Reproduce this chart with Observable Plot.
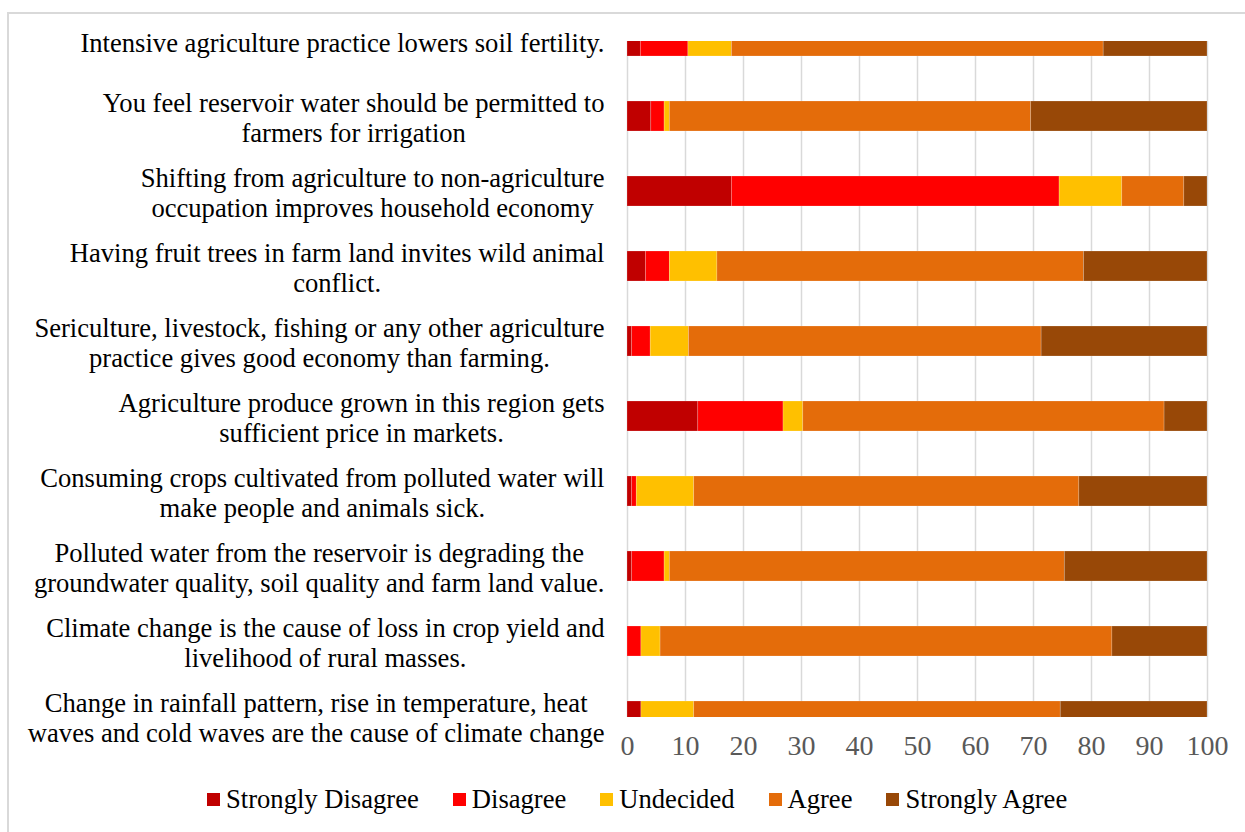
<!DOCTYPE html>
<html>
<head>
<meta charset="utf-8">
<script src="https://cdn.jsdelivr.net/npm/d3@7"></script>
<script src="https://cdn.jsdelivr.net/npm/@observablehq/plot@0.6"></script>
<style>
  html, body { margin: 0; padding: 0; background: #fff; }
  #wrap { position: relative; width: 1245px; height: 832px; overflow: hidden; font-family: "Liberation Serif", "Times New Roman", serif; }
  #frame { position: absolute; left: 7px; top: 12px; width: 1300px; height: 900px; border-left: 2px solid #d9d9d9; border-top: 2px solid #d9d9d9; box-sizing: border-box; }
  #chart { position: absolute; left: 0; top: 0; }
  #legend { position: absolute; left: 207px; top: 784px; display: flex; align-items: center; font-size: 26.6px; color: #000; white-space: nowrap; }
  .item { display: flex; align-items: center; margin-right: 34px; }
  .sw { width: 13px; height: 13px; margin-right: 6px; }
</style>
</head>
<body>
<div id="wrap">
  <div id="frame"></div>
  <div id="chart"></div>
  <div id="legend"></div>
</div>
<script>
const categories = [
  "Intensive agriculture practice lowers soil fertility.",
  "You feel reservoir water should be permitted to\nfarmers for irrigation",
  "Shifting from agriculture to non-agriculture\noccupation improves household economy",
  "Having fruit trees in farm land invites wild animal\nconflict.",
  "Sericulture, livestock, fishing or any other agriculture\npractice gives good economy than farming.",
  "Agriculture produce grown in this region gets\nsufficient price in markets.",
  "Consuming crops cultivated from polluted water will\nmake people and animals sick.",
  "Polluted water from the reservoir is degrading the\ngroundwater quality, soil quality and farm land value.",
  "Climate change is the cause of loss in crop yield and\nlivelihood of rural masses.",
  "Change in rainfall pattern, rise in temperature, heat\nwaves and cold waves are the cause of climate change"
];
const responses = ["Strongly Disagree", "Disagree", "Undecided", "Agree", "Strongly Agree"];
const colors = ["#C00000", "#FF0000", "#FFC000", "#E46C0A", "#984807"];

const stronglyDisagree = [2.3, 4.1, 18.0, 3.2, 0.8, 12.2, 0.8, 0.8, 0.0, 2.4];
const disagree         = [8.2, 2.3, 56.5, 4.1, 3.2, 14.7, 0.8, 5.6, 2.4, 0.0];
const undecided        = [7.5, 0.9, 10.8, 8.2, 6.6, 3.4, 9.9, 0.9, 3.3, 9.1];
const agree            = [64.1, 62.3, 10.7, 63.2, 60.8, 62.3, 66.4, 68.1, 77.9, 63.2];
const stronglyAgree    = [17.9, 30.4, 4.0, 21.3, 28.6, 7.4, 22.1, 24.6, 16.4, 25.3];
const xTicks = [0, 10, 20, 30, 40, 50, 60, 70, 80, 90, 100];

const series = [stronglyDisagree, disagree, undecided, agree, stronglyAgree];
const rows = [];
categories.forEach((c, i) => {
  series.forEach((s, k) => rows.push({ idx: i, response: responses[k], value: s[i] }));
});

const FS = 26.6;
const canvas = document.createElement("canvas");
const ctx = canvas.getContext("2d");
ctx.font = `${FS}px "Liberation Serif"`;
const labelMarks = categories.map((c, i) => {
  const w = d3.max(c.split("\n"), l => ctx.measureText(l).width);
  return Plot.text([c], {
    y: () => i, text: d => d, frameAnchor: "left", textAnchor: "middle",
    dx: -(23 + w / 2), dy: 0.5, fontSize: FS, lineHeight: 30 / FS, fill: "#000"
  });
});

const H = 770;
const chart = Plot.plot({
  width: 1245,
  height: H,
  marginLeft: 627,
  marginRight: 38,
  marginTop: 41,
  marginBottom: H - 717,
  style: { fontFamily: '"Liberation Serif", "Times New Roman", serif', background: "transparent", overflow: "visible" },
  x: { domain: [0, 100], label: null },
  y: { domain: [0, 9], range: [41, 716], axis: null },
  color: { domain: responses, range: colors },
  marks: [
    Plot.gridX(xTicks, { stroke: "#d9d9d9", strokeOpacity: 1, strokeWidth: 1.5 }),
    Plot.rectX(rows, {
      x: "value", y1: d => d.idx - 0.2, y2: d => d.idx + 0.2,
      fill: "response", order: null, clip: true,
      stroke: "#ffffff", strokeOpacity: 0.25, strokeWidth: 0.75
    }),
    Plot.axisX(xTicks, { tickSize: 0, tickPadding: 18, fontSize: 28, fill: "#595959", label: null, tickFormat: d => String(d) }),
    ...labelMarks
  ]
});
document.getElementById("chart").appendChild(chart);

const legend = document.getElementById("legend");
responses.forEach((r, k) => {
  const it = document.createElement("div");
  it.className = "item";
  it.innerHTML = `<div class="sw" style="background:${colors[k]}"></div><span>${r}</span>`;
  legend.appendChild(it);
});
</script>
</body>
</html>
